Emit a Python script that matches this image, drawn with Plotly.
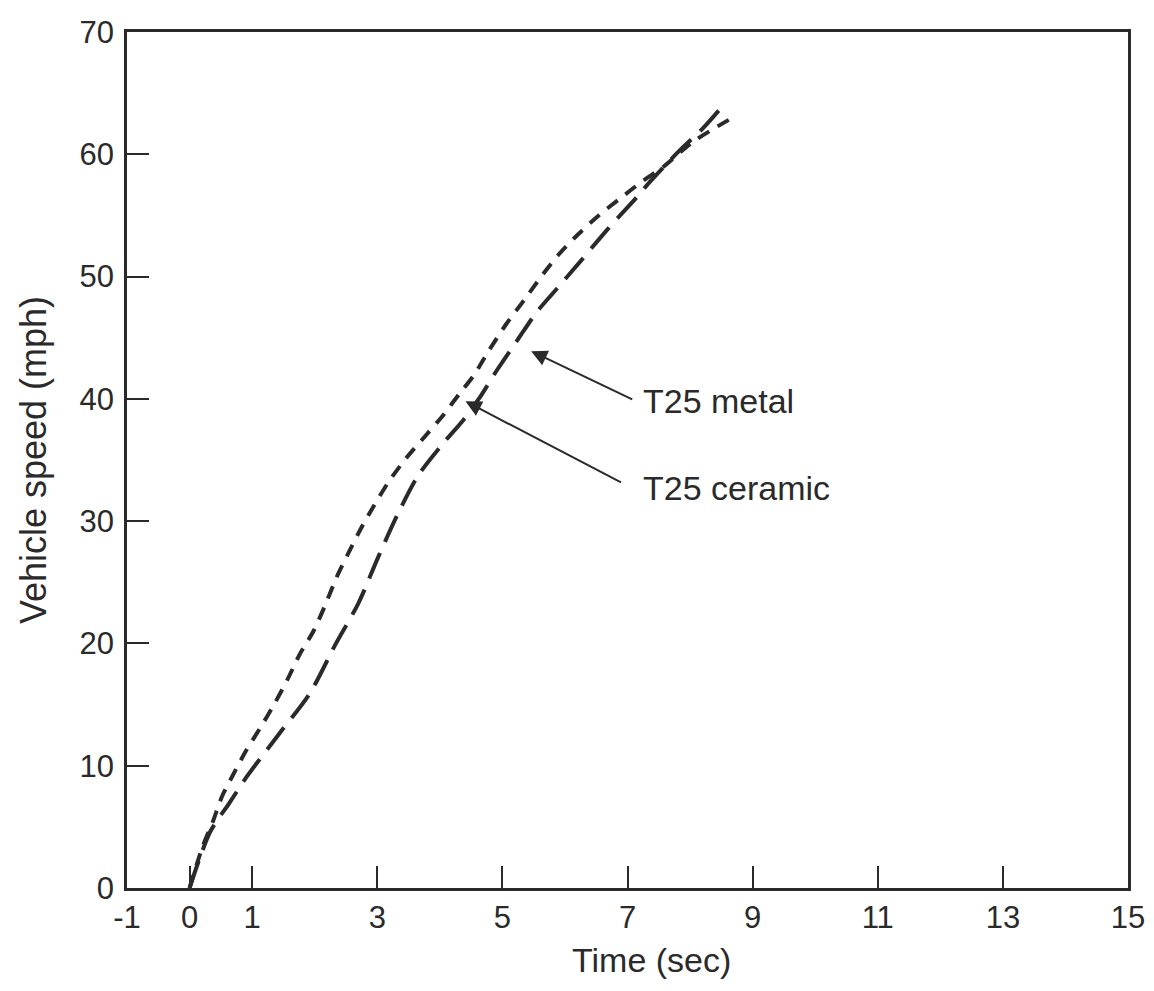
import plotly.graph_objects as go

# values
ceramic_time = [0, 0.21, 0.37, 0.52, 0.70, 0.90, 1.13, 1.35, 1.56, 1.76, 1.99, 2.19, 2.35, 2.54,
                2.75, 2.94, 3.18, 3.47, 3.74, 4.06, 4.31, 4.54, 4.79, 5.06, 5.38, 5.65, 5.90,
                6.22, 6.54, 6.86, 7.24, 7.58, 8.04, 8.75]
ceramic_speed = [0, 3.4, 5.4, 7.5, 9.3, 11.2, 13.1, 15.0, 17.0, 19.1, 21.1, 23.4, 25.4, 27.4,
                 29.5, 31.2, 33.2, 35.2, 36.8, 38.7, 40.4, 41.9, 44.0, 46.1, 48.3, 50.2, 51.8,
                 53.5, 55.0, 56.3, 57.8, 59.0, 61.0, 63.2]

metal_time = [0, 0.33, 0.63, 0.90, 1.43, 1.92, 2.33, 2.70, 3.01, 3.33, 3.65, 4.06, 4.38, 4.65,
              4.92, 5.24, 5.55, 5.87, 6.24, 6.67, 7.15, 7.35, 7.83, 8.20, 8.58]
metal_speed = [0, 4.6, 6.9, 9.0, 12.6, 15.9, 19.9, 23.3, 27.0, 30.6, 33.7, 36.4, 38.3, 40.2,
               42.4, 44.8, 47.1, 49.0, 51.2, 53.8, 56.5, 57.7, 60.3, 62.1, 64.3]

x_ticks = [-1, 0, 1, 3, 5, 7, 9, 11, 13, 15]
y_ticks = [0, 10, 20, 30, 40, 50, 60, 70]

ink = '#2a2a2a'
font = 'Liberation Sans, Arial, sans-serif'

fig = go.Figure()

# ceramic = short dashes, metal = long dashes
fig.add_trace(go.Scatter(name='T25 ceramic', x=ceramic_time, y=ceramic_speed, mode='lines',
    line=dict(color=ink, width=4, dash='13px,10px', shape='spline', smoothing=0.8)))
fig.add_trace(go.Scatter(name='T25 metal', x=metal_time, y=metal_speed, mode='lines',
    line=dict(color=ink, width=4, dash='28px,12px', shape='spline', smoothing=0.8)))

# arrows and labels
labels = [
    {'text': 'T25 metal', 'tip': (5.46, 43.9), 'tail': (7.10, 39.9), 'pos': (7.22, 39.8)},
    {'text': 'T25 ceramic', 'tip': (4.41, 39.8), 'tail': (6.92, 33.1), 'pos': (7.22, 32.7)},
]
for lab in labels:
    fig.add_annotation(x=lab['tip'][0], y=lab['tip'][1], ax=lab['tail'][0], ay=lab['tail'][1],
        axref='x', ayref='y', xref='x', yref='y', text='', showarrow=True,
        arrowhead=2, arrowsize=1.6, arrowwidth=2, arrowcolor=ink)
    fig.add_annotation(x=lab['pos'][0], y=lab['pos'][1], xref='x', yref='y', text=lab['text'],
        showarrow=False, xanchor='left', yanchor='middle',
        font=dict(family=font, size=34, color=ink))

# x axis title sits a bit right of centre in the original
fig.add_annotation(x=0.524, y=-0.084, xref='paper', yref='paper', text='Time (sec)',
    showarrow=False, xanchor='center', yanchor='middle',
    font=dict(family=font, size=34, color=ink))

fig.update_xaxes(range=[-1, 15], tickvals=x_ticks, ticktext=[str(v) for v in x_ticks],
    ticks='inside', ticklen=22, tickwidth=2, tickcolor=ink, automargin=False,
    ticklabeloverflow='allow',
    showline=True, linewidth=2.5, linecolor=ink, mirror=True, showgrid=False, zeroline=False,
    tickfont=dict(family=font, size=31, color=ink), ticklabelstandoff=0)
fig.update_yaxes(range=[0, 70], tickvals=y_ticks,
    ticks='inside', ticklen=22, tickwidth=2, tickcolor=ink, automargin=False,
    ticklabeloverflow='allow',
    showline=True, linewidth=2.5, linecolor=ink, mirror=True, showgrid=False, zeroline=False,
    tickfont=dict(family=font, size=31, color=ink), ticklabelstandoff=4,
    title=dict(text='Vehicle speed (mph)', font=dict(family=font, size=36, color=ink), standoff=22))

fig.update_layout(
    width=1138, height=975,
    margin=dict(l=119, r=18, t=24, b=95),
    plot_bgcolor='white', paper_bgcolor='white',
    showlegend=False,
)

fig.write_html("out.html")
